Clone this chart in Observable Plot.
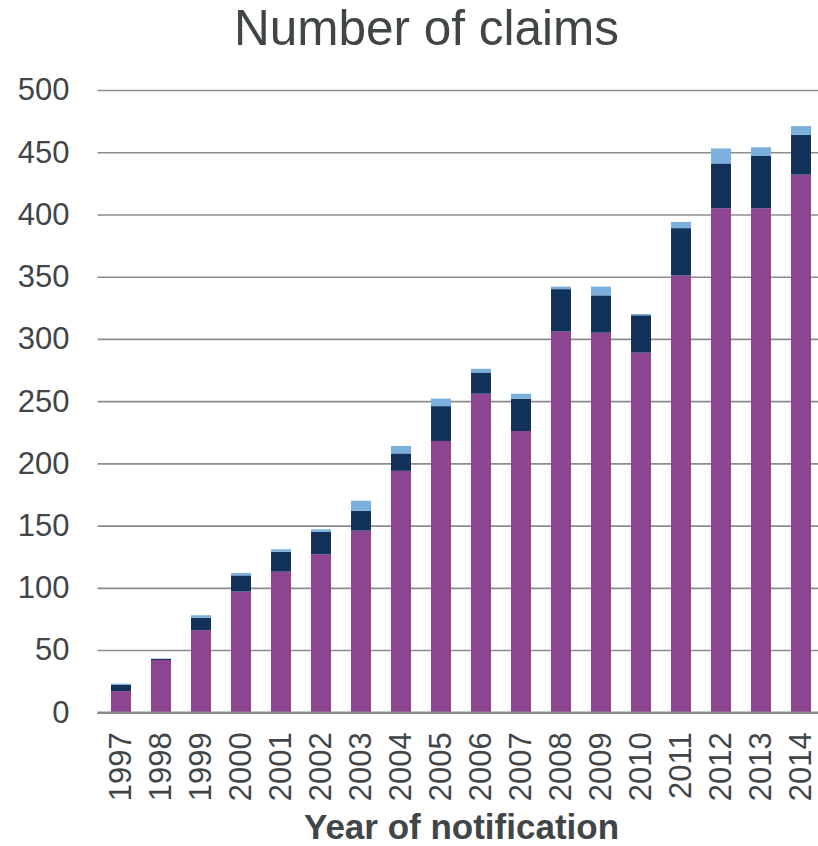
<!DOCTYPE html>
<html>
<head>
<meta charset="utf-8">
<script src="https://cdn.jsdelivr.net/npm/d3@7"></script>
<script src="https://cdn.jsdelivr.net/npm/@observablehq/plot@0.6"></script>
<style>
  html, body { margin: 0; padding: 0; background: #ffffff; overflow: hidden; }
  #title {
    width: 853px; height: 56px; line-height: 56px; text-align: center;
    font-family: "Liberation Sans", Arial, sans-serif; font-size: 49.5px;
    color: #404548; white-space: nowrap;
  }
  #chart svg { display: block; }
</style>
</head>
<body>
<div id="title">Number of claims</div>
<div id="chart"></div>
<script>
const years = ["1997","1998","1999","2000","2001","2002","2003","2004","2005","2006","2007","2008","2009","2010","2011","2012","2013","2014"];
const seriesNames = ["Series 1", "Series 2", "Series 3"];
const series1 = [17, 42, 66, 97, 113, 127, 146, 194, 218, 256, 226, 306, 305, 289, 351, 405, 405, 432];
const series2 = [5, 1, 10, 13, 16, 18, 16, 14, 28, 17, 26, 34, 30, 30, 38, 36, 42, 32];
const series3 = [1, 0, 2, 2, 2, 2, 8, 6, 6, 3, 4, 2, 7, 1, 5, 12, 7, 7];
const seriesColors = ["#8e4591", "#13325a", "#7aafde"];
const yTicks = [0, 50, 100, 150, 200, 250, 300, 350, 400, 450, 500];
const xTitle = "Year of notification";

const data = years.flatMap((yr, i) => [
  {year: yr, series: seriesNames[0], value: series1[i]},
  {year: yr, series: seriesNames[1], value: series2[i]},
  {year: yr, series: seriesNames[2], value: series3[i]}
]);

const textColor = "#404548";
const gridColor = "#8c8c8c";

const chart = Plot.plot({
  width: 818,
  height: 790,
  marginTop: 34,
  marginBottom: 133.7,
  marginLeft: 97.5,
  marginRight: -6.5,
  style: {
    fontFamily: "'Liberation Sans', Arial, sans-serif",
    fontSize: "31px",
    color: textColor,
    background: "#ffffff",
    overflow: "visible"
  },
  x: {domain: years, paddingInner: 0.505, paddingOuter: 0.2525, label: null},
  y: {domain: [0, 500], label: null},
  color: {domain: seriesNames, range: seriesColors},
  marks: [
    Plot.gridY(yTicks, {stroke: gridColor, strokeOpacity: 1, strokeWidth: 1.6}),
    Plot.barY(data, {x: "year", y: "value", fill: "series", order: seriesNames}),
    Plot.ruleY([0], {stroke: gridColor, strokeWidth: 2.6}),
    Plot.axisY(yTicks, {tickSize: 0, tickPadding: 28.5, label: null, fill: textColor, fontSize: 31}),
    Plot.axisX({tickSize: 0, tickPadding: 19.5, tickRotate: -90, label: null, fill: textColor, fontSize: 31}),
    Plot.text([xTitle], {frameAnchor: "bottom", lineAnchor: "middle", dy: 115, text: d => d, fontWeight: "bold", fontSize: 35, fill: textColor, textAnchor: "middle"})
  ]
});
document.getElementById("chart").appendChild(chart);
</script>
</body>
</html>
